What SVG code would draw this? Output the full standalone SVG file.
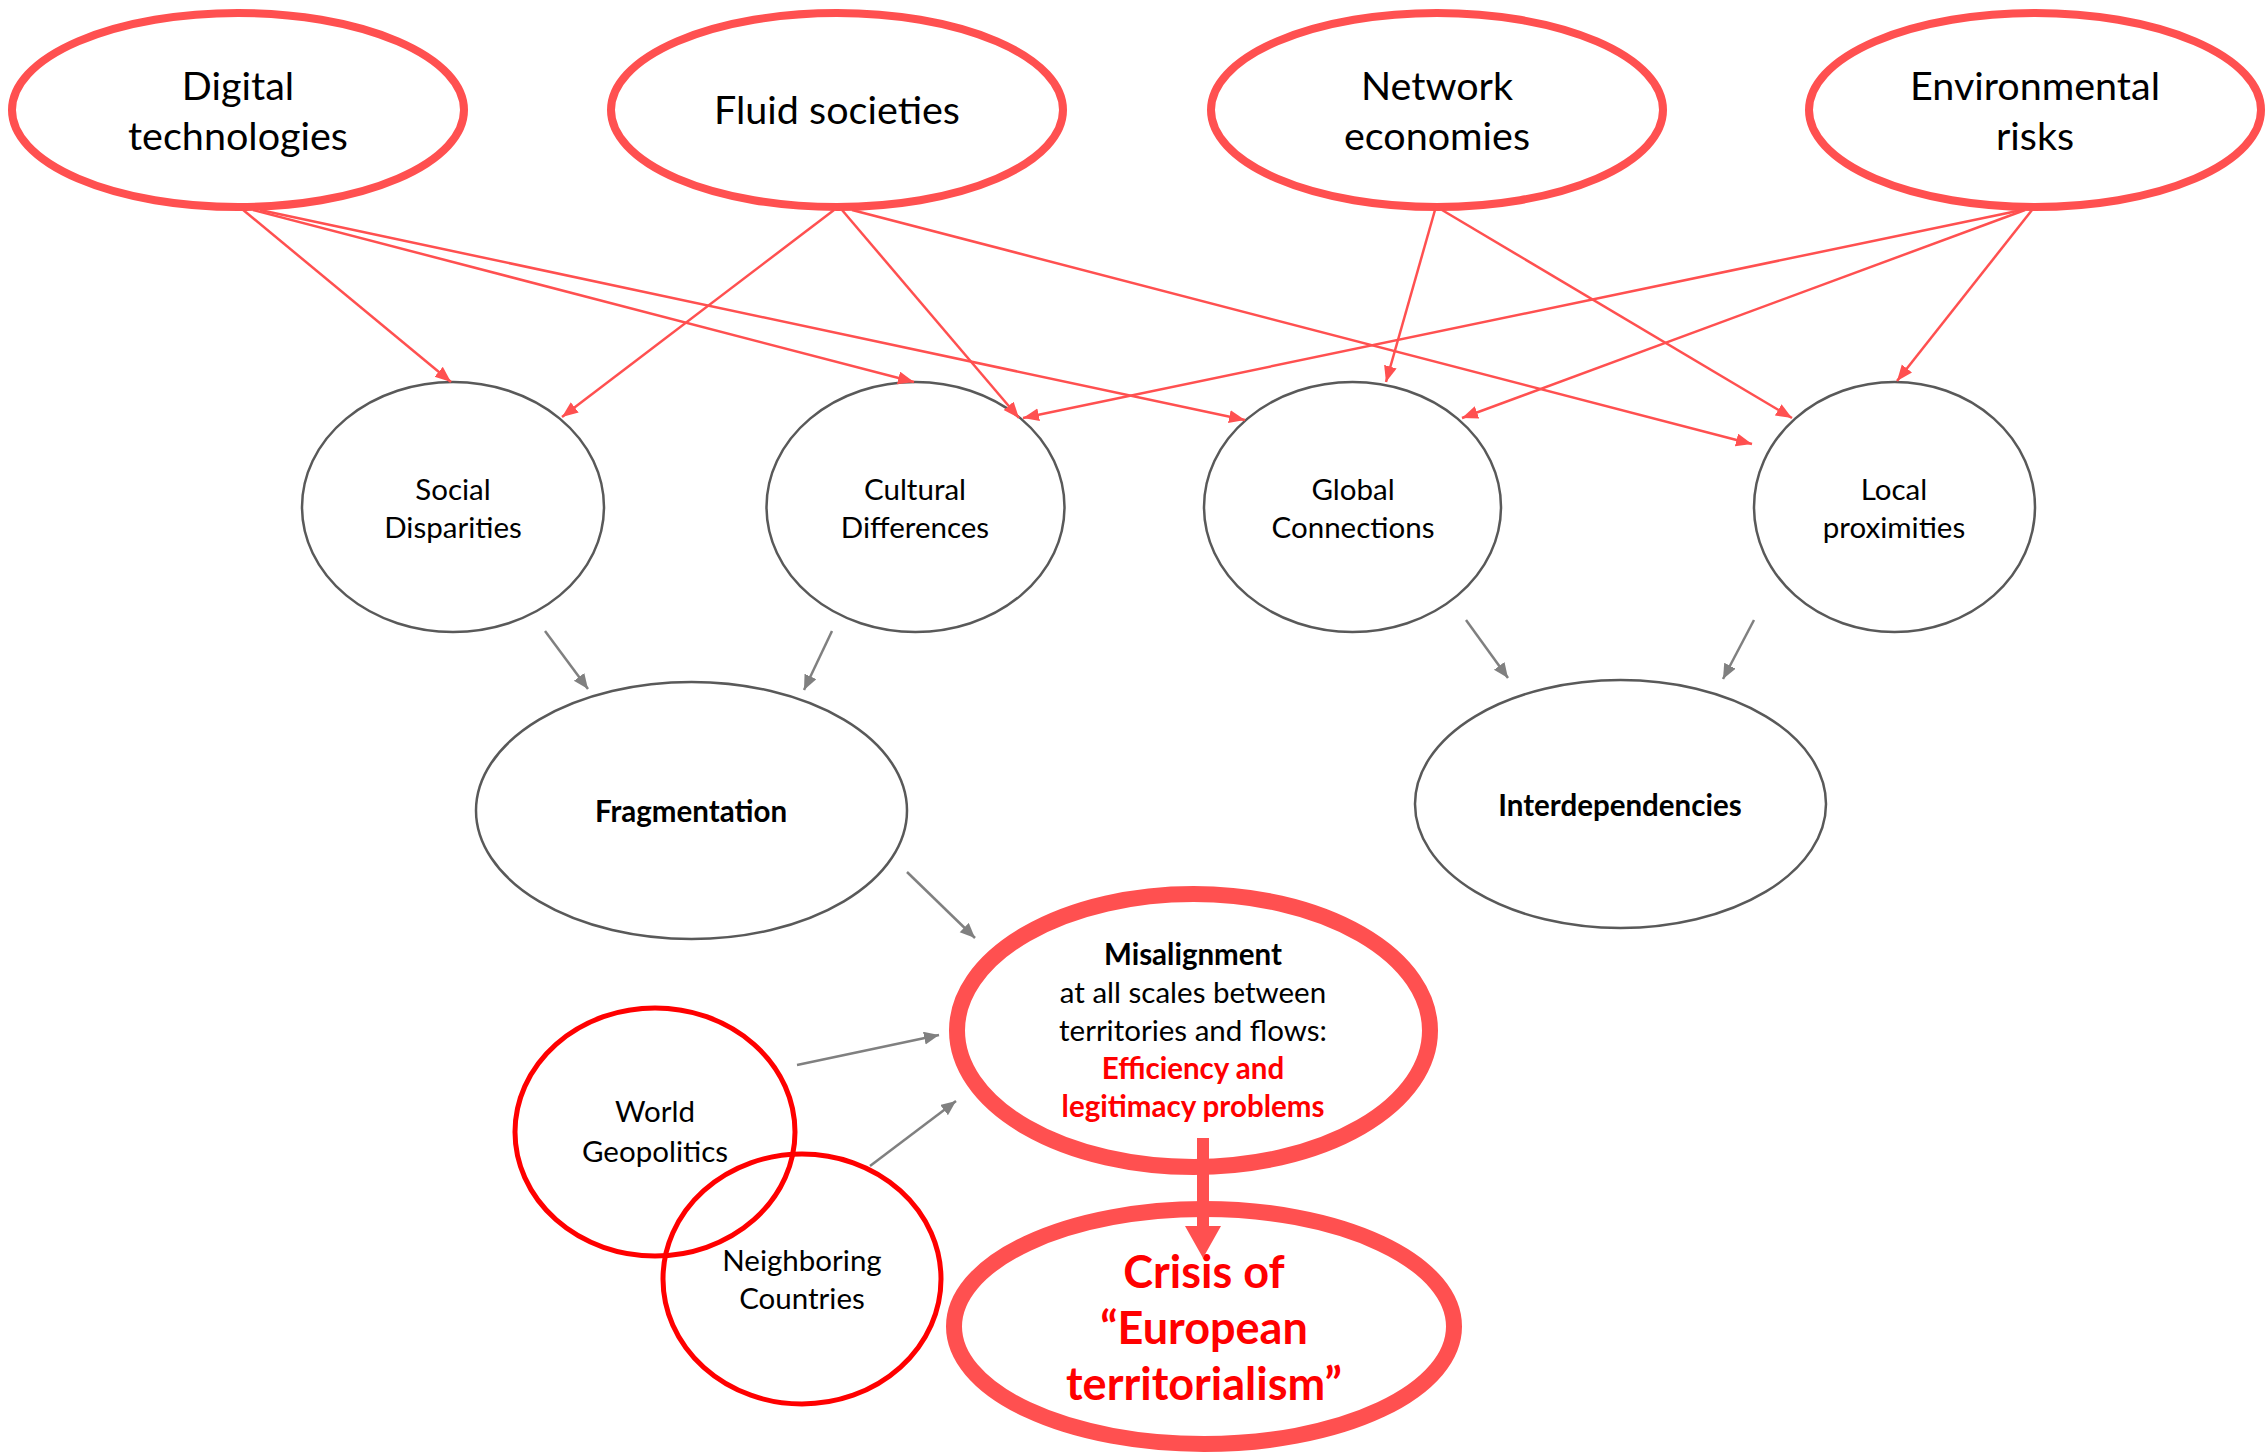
<svg xmlns="http://www.w3.org/2000/svg" width="2266" height="1456" viewBox="0 0 2266 1456">
<style>
  text { font-family: Lato, "Open Sans", "Liberation Sans", sans-serif; text-anchor: middle; fill: #000; }
  .top { fill: none; stroke: #ff5050; stroke-width: 8; }
  .mid { fill: none; stroke: #595959; stroke-width: 2.5; }
  .big { fill: none; stroke: #ff5050; stroke-width: 16; }
  .geo { fill: none; stroke: #ff0000; stroke-width: 5; }
  .t40 { font-size: 39.5px; }
  .t28 { font-size: 29.5px; }
  .b28 { font-size: 29.5px; font-weight: bold; }
  .red { fill: #ff0000; font-weight: bold; }
  .crisis { font-size: 45px; font-weight: bold; fill: #ff0000; }
  .ra { stroke: #ff5050; stroke-width: 2.5; fill: none; marker-end: url(#mr); }
  .ga { stroke: #808080; stroke-width: 2.5; fill: none; marker-end: url(#mg); }
</style>
<defs>
  <marker id="mr" markerUnits="userSpaceOnUse" markerWidth="18" markerHeight="14" refX="16" refY="6.5" orient="auto">
    <path d="M0,0 L16,6.5 L0,13 z" fill="#ff5050"/>
  </marker>
  <marker id="mg" markerUnits="userSpaceOnUse" markerWidth="18" markerHeight="14" refX="15" refY="6.5" orient="auto">
    <path d="M0,0 L15,6.5 L0,13 z" fill="#808080"/>
  </marker>
  <marker id="mt" markerUnits="userSpaceOnUse" markerWidth="34" markerHeight="38" refX="4" refY="18" orient="auto">
    <path d="M0,0 L32,18 L0,36 z" fill="#ff5050"/>
  </marker>
</defs>
<rect width="2266" height="1456" fill="#ffffff"/>

<g id="n-digital">
  <ellipse class="top" cx="238" cy="110" rx="226" ry="97"/>
  <text class="t40" x="238" y="100">Digital</text>
  <text class="t40" x="238" y="150">technologies</text>
</g>
<g id="n-fluid">
  <ellipse class="top" cx="837" cy="110" rx="226" ry="97"/>
  <text class="t40" x="837" y="124">Fluid societies</text>
</g>
<g id="n-network">
  <ellipse class="top" cx="1437" cy="110" rx="226" ry="97"/>
  <text class="t40" x="1437" y="100">Network</text>
  <text class="t40" x="1437" y="150">economies</text>
</g>
<g id="n-env">
  <ellipse class="top" cx="2035" cy="110" rx="226" ry="97"/>
  <text class="t40" x="2035" y="100">Environmental</text>
  <text class="t40" x="2035" y="150">risks</text>
</g>

<g id="n-social">
  <ellipse class="mid" cx="453" cy="507" rx="151" ry="125"/>
  <text class="t28" x="453" y="500">Social</text>
  <text class="t28" x="453" y="538">Disparities</text>
</g>
<g id="n-cultural">
  <ellipse class="mid" cx="915.5" cy="507" rx="149" ry="125"/>
  <text class="t28" x="915" y="500">Cultural</text>
  <text class="t28" x="915" y="538">Differences</text>
</g>
<g id="n-global">
  <ellipse class="mid" cx="1352.5" cy="507" rx="148.5" ry="125"/>
  <text class="t28" x="1353" y="500">Global</text>
  <text class="t28" x="1353" y="538">Connections</text>
</g>
<g id="n-local">
  <ellipse class="mid" cx="1894.5" cy="507" rx="140.5" ry="125"/>
  <text class="t28" x="1894" y="500">Local</text>
  <text class="t28" x="1894" y="538">proximities</text>
</g>

<g id="n-fragmentation">
  <ellipse class="mid" cx="691.5" cy="810.5" rx="215.5" ry="128.5"/>
  <text class="b28" x="691" y="822">Fragmentation</text>
</g>
<g id="n-interdependencies">
  <ellipse class="mid" cx="1620.5" cy="804" rx="205.5" ry="124"/>
  <text class="b28" x="1620" y="816">Interdependencies</text>
</g>

<g id="n-misalignment">
  <ellipse class="big" cx="1193.5" cy="1030.5" rx="236.5" ry="136.5"/>
  <text class="b28" x="1193" y="965">Misalignment</text>
  <text class="t28" x="1193" y="1003">at all scales between</text>
  <text class="t28" x="1193" y="1041">territories and flows:</text>
  <text class="t28 red" x="1193" y="1079">Efficiency and</text>
  <text class="t28 red" x="1193" y="1117">legitimacy problems</text>
</g>

<g id="n-crisis">
  <ellipse class="big" cx="1204" cy="1326.5" rx="250" ry="117.5"/>
  <text class="crisis" x="1204" y="1288">Crisis of</text>
  <text class="crisis" x="1204" y="1344">“European</text>
  <text class="crisis" x="1204" y="1400">territorialism”</text>
</g>

<g id="n-world">
  <ellipse class="geo" cx="655" cy="1132" rx="140" ry="124"/>
  <text class="t28" x="655" y="1122">World</text>
  <text class="t28" x="655" y="1162">Geopolitics</text>
</g>
<g id="n-neighboring">
  <ellipse class="geo" cx="802" cy="1279" rx="139" ry="125"/>
  <text class="t28" x="802" y="1271">Neighboring</text>
  <text class="t28" x="802" y="1309">Countries</text>
</g>

<g id="connectors">
  <line class="ra" x1="242" y1="209" x2="451" y2="382"/>
  <line class="ra" x1="253" y1="210" x2="914" y2="382"/>
  <line class="ra" x1="260" y1="210" x2="1245" y2="420"/>
  <line class="ra" x1="834" y1="210" x2="562" y2="417"/>
  <line class="ra" x1="842" y1="210" x2="1019" y2="418"/>
  <line class="ra" x1="852" y1="210" x2="1752" y2="444"/>
  <line class="ra" x1="1435" y1="210" x2="1386" y2="382"/>
  <line class="ra" x1="1442" y1="210" x2="1792" y2="418"/>
  <line class="ra" x1="2022" y1="210" x2="1023" y2="418"/>
  <line class="ra" x1="2025" y1="210" x2="1462" y2="418"/>
  <line class="ra" x1="2032" y1="210" x2="1897" y2="381"/>

  <line class="ga" x1="545" y1="631" x2="588" y2="689"/>
  <line class="ga" x1="832" y1="631" x2="804" y2="690"/>
  <line class="ga" x1="907" y1="872" x2="975" y2="938"/>
  <line class="ga" x1="1466" y1="620" x2="1508" y2="678"/>
  <line class="ga" x1="1754" y1="620" x2="1723" y2="679"/>
  <line class="ga" x1="797" y1="1065" x2="939" y2="1035"/>
  <line class="ga" x1="870" y1="1166" x2="956" y2="1101"/>

  <line x1="1203" y1="1138" x2="1203" y2="1230" stroke="#ff5050" stroke-width="12" marker-end="url(#mt)"/>
</g>
</svg>
